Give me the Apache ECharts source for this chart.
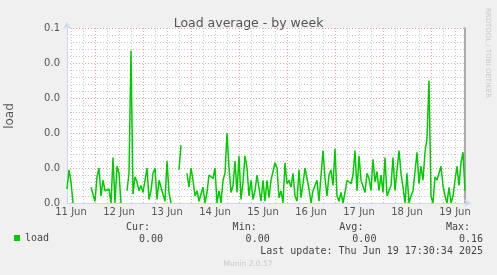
<!DOCTYPE html>
<html><head><meta charset="utf-8">
<script src="https://cdn.jsdelivr.net/npm/echarts@6/dist/echarts.min.js"></script>
<style>html,body{margin:0;padding:0;background:#F0F0F0;}#c{width:497px;height:275px;}</style>
</head><body><div id="c"></div>
<script>
// hourly samples, first one at 11 Jun 10:00
const startDay = 11, startHour = 10, monthName = "Jun";
const loadValues = [
  0.008,0.019,0.012,0.000,null,null,null,null,null,null,
  null,null,0.009,0.010,0.001,0.015,0.020,0.004,0.013,0.007,
  0.008,0.008,0.000,0.026,0.000,0.021,0.017,0.000,null,null,
  0.007,0.017,0.087,0.005,0.015,0.012,0.007,0.010,0.006,0.006,
  0.020,0.002,0.007,0.017,0.020,0.002,0.013,0.009,0.010,0.001,
  0.024,0.006,0.000,null,null,null,0.019,0.033,null,null,
  0.017,0.009,0.020,0.013,0.004,0.007,0.001,0.002,0.009,0.000,
  0.006,0.016,0.016,0.014,0.020,0.000,0.007,0.000,0.013,0.017,
  0.040,0.020,0.006,0.010,0.024,0.006,0.027,0.002,0.012,0.027,
  0.020,0.004,0.013,0.002,0.007,0.016,0.016,0.001,0.013,0.001,
  0.013,0.003,0.013,0.013,0.023,0.020,0.003,0.007,0.000,0.023,
  0.011,0.013,0.009,0.017,0.004,0.001,0.019,0.003,0.011,0.020,
  0.020,0.008,0.000,0.007,0.007,0.013,0.001,0.002,0.030,0.014,
  0.004,0.016,0.019,0.010,0.031,0.004,0.001,0.006,0.000,0.006,
  0.013,0.012,0.011,0.016,0.030,0.007,0.027,0.013,0.012,0.006,
  0.017,0.014,0.007,0.025,0.012,0.018,0.007,0.016,0.006,0.026,
  0.004,0.007,0.010,0.026,0.007,0.007,0.030,0.017,0.009,0.000,
  0.017,0.000,0.004,0.007,0.006,0.029,0.011,0.021,0.013,0.029,
  0.037,0.070,0.004,0.000,0.015,0.013,0.017,0.021,0.010,0.004,
  0.000,0.009,0.000,0.004,0.013,0.021,0.010,0.023,0.029,0.007
];
const yTickLabels = ["0.0","0.0","0.0","0.0","0.0","0.1"];
const statLabels = ["Cur:","Min:","Avg:","Max:"];
const statValues = ["0.00","0.00","0.00","0.16"];
const seriesName = "load";
const titleText = "Load average - by week";
const lastUpdate = "Last update: Thu Jun 19 17:30:34 2025";
const footer = "Munin 2.0.57";
const watermark = "RRDTOOL / TOBI OETIKER";

const categories = loadValues.map((_, i) => {
  const t = startHour + i;
  const day = startDay + Math.floor(t / 24);
  const hh = t % 24;
  return day + " " + monthName + " " + String(hh).padStart(2, "0") + ":00";
});
const hourOf = v => +v.slice(-5, -3);

const MONO = "DejaVu Sans Mono";
const SANS = "DejaVu Sans";
const graphics = [
  {type:"text", x:10, y:116, rotation:Math.PI/2, silent:true,
   style:{text:seriesName, font:"12px " + SANS, fill:"#555", textAlign:"center", textVerticalAlign:"middle"}},
  {type:"text", x:488, y:53, rotation:-Math.PI/2, silent:true,
   style:{text:watermark, font:"7px " + SANS, fill:"#c8c8c8", textAlign:"center", textVerticalAlign:"middle"}},
  {type:"text", x:483, y:251.5, silent:true,
   style:{text:lastUpdate, font:"10px " + MONO, fill:"#444", textAlign:"right", textVerticalAlign:"middle"}},
  {type:"text", x:248, y:264, silent:true,
   style:{text:footer, font:"7.5px " + SANS, fill:"#c8c8c8", textAlign:"center", textVerticalAlign:"middle"}}
];
statLabels.forEach((s, k) => {
  graphics.push({type:"text", x:150 + 106.7 * k, y:227.5, silent:true,
    style:{text:s, font:"10px " + MONO, fill:"#444", textAlign:"right", textVerticalAlign:"middle"}});
  graphics.push({type:"text", x:163 + 106.7 * k, y:239.5, silent:true,
    style:{text:statValues[k], font:"10px " + MONO, fill:"#444", textAlign:"right", textVerticalAlign:"middle"}});
});

const chart = echarts.init(document.getElementById("c"), null, {renderer:"canvas"});
chart.setOption({
  backgroundColor:"#F0F0F0",
  animation:false,
  title:{text:titleText, left:"center", top:12,
    textStyle:{fontFamily:SANS, fontSize:12.5, fontWeight:"normal", color:"#555"}},
  grid:{left:67, right:32, top:28, bottom:72, show:true, backgroundColor:"#FFFFFF", borderWidth:0},
  legend:{data:[seriesName], left:14, top:233, icon:"rect", itemWidth:6, itemHeight:6, padding:0,
    selectedMode:false, textStyle:{fontFamily:MONO, fontSize:10, color:"#444"}},
  xAxis:[{
    type:"category", data:categories, boundaryGap:false,
    axisLine:{show:true, lineStyle:{color:"#CFD6F8", width:1}, symbol:["none","arrow"], symbolSize:[6,7], symbolOffset:[0,6]},
    axisTick:{show:false},
    axisLabel:{interval:(i, v) => hourOf(v) === 12, formatter:v => v.slice(0, v.lastIndexOf(" ")),
      color:"#555", fontFamily:SANS, fontSize:10, margin:4},
    splitLine:{show:true, interval:(i, v) => hourOf(v) % 6 === 0 && hourOf(v) !== 0,
      lineStyle:{color:"#C8C8C8", type:[1,2], width:1}}
  },{
    type:"category", data:categories, boundaryGap:false, position:"bottom",
    axisLine:{show:false}, axisTick:{show:false}, axisLabel:{show:false},
    splitLine:{show:true, interval:(i, v) => hourOf(v) === 0,
      lineStyle:{color:"#E8A0A0", type:[1,2], width:1}}
  }],
  yAxis:[{
    type:"value", min:0, max:0.1, interval:0.02,
    axisLine:{show:true, lineStyle:{color:"#CFD6F8", width:1}, symbol:["none","arrow"], symbolSize:[6,7], symbolOffset:[0,6]},
    axisTick:{show:false},
    axisLabel:{formatter:(v, i) => yTickLabels[i], color:"#555", fontFamily:SANS, fontSize:10, margin:7},
    splitLine:{show:true, lineStyle:{color:"#E8A0A0", type:[1,2], width:1}},
    minorTick:{show:false, splitNumber:5},
    minorSplitLine:{show:true, lineStyle:{color:"#C8C8C8", type:[1,2], width:1}}
  },{
    type:"value", min:0, max:0.1, position:"right",
    axisLine:{show:true, lineStyle:{color:"#909090", width:1.5}},
    axisTick:{show:false}, axisLabel:{show:false}, splitLine:{show:false}
  }],
  series:[{
    name:seriesName, type:"line", data:loadValues, xAxisIndex:0, yAxisIndex:0,
    showSymbol:false, symbol:"none", connectNulls:false,
    lineStyle:{color:"#00CC00", width:1.5}, itemStyle:{color:"#00CC00"}
  }],
  graphic:graphics
});
</script></body></html>
